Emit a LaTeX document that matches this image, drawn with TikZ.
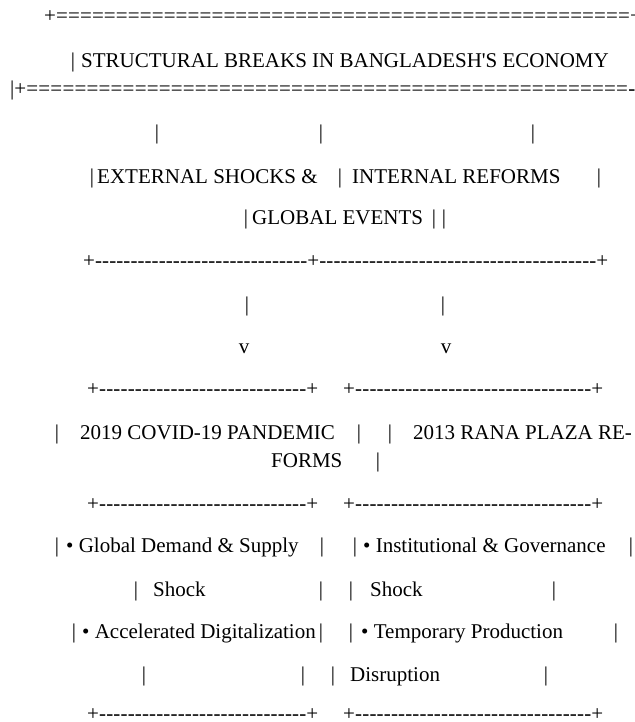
\documentclass[tikz,border=0pt]{standalone}
\usepackage{fontspec}
\setmainfont{Liberation Serif}
\usepackage{tikz}
\newcommand{\dashrun}[2]{\hbox to #1{\xleaders\hbox{#2}\hfill}}
\newcommand{\apos}{\XeTeXglyph\XeTeXcharglyph"27\relax}
\tikzstyle{txt} = [anchor=base west, inner sep=0pt, font=\fontsize{21}{25}\selectfont]
\tikzstyle{pipe} = [anchor=base, inner sep=0pt, font=\fontsize{21}{25}\selectfont]

\begin{document}
\begin{tikzpicture}[x=1pt,y=-1pt]
	\useasboundingbox (0,0) rectangle (634,722);
	\node[txt] (top) at (44,23) {+\dashrun{574pt}{=}+};
	\node[pipe] (p1) at (73,68) {|};
	\node[txt] (title) at (81,68) {STRUCTURAL BREAKS IN BANGLADESH\apos S ECONOMY};
	\node[txt] (under) at (10,96) {|+\dashrun{602pt}{=}-};
	\node[pipe] (p2) at (157,140) {|};
	\node[pipe] (p3) at (321,140) {|};
	\node[pipe] (p4) at (533,140) {|};
	\node[pipe] (p5) at (92,183) {|};
	\node[txt] (ext) at (97,183) {EXTERNAL SHOCKS \&};
	\node[pipe] (p6) at (340,183) {|};
	\node[txt] (int) at (352,183) {INTERNAL REFORMS};
	\node[pipe] (p7) at (599,183) {|};
	\node[pipe] (p8) at (246,224) {|};
	\node[txt] (glob) at (252,224) {GLOBAL EVENTS};
	\node[pipe] (p9) at (434,224) {|};
	\node[pipe] (p10) at (444,224) {|};
	\node[txt] (split) at (83,267) {+\dashrun{212.4pt}{-}+\dashrun{277.2pt}{-}+};
	\node[pipe] (p11) at (247,311) {|};
	\node[pipe] (p12) at (443,311) {|};
	\node[pipe] (v1) at (244,353) {v};
	\node[pipe] (v2) at (446,353) {v};
	\foreach \y/\n in {395/a,510/b,720/c} {
		\node[txt] (left\n) at (87,\y) {+\dashrun{207.4pt}{-}+};
		\node[txt] (right\n) at (343,\y) {+\dashrun{236.4pt}{-}+};
	}
	\node[pipe] (p13) at (57,439) {|};
	\node[txt] (covid) at (80,439) {2019 COVID-19 PANDEMIC};
	\node[pipe] (p14) at (359,439) {|};
	\node[pipe] (p15) at (390,439) {|};
	\node[txt] (rana) at (413,439) {2013 RANA PLAZA RE-};
	\node[txt] (forms) at (271,467) {FORMS};
	\node[pipe] (p16) at (378,467) {|};
	\node[pipe] (p17) at (57,552) {|};
	\node[txt] (demand) at (66,552) {• Global Demand \& Supply};
	\node[pipe] (p18) at (322,552) {|};
	\node[pipe] (p19) at (355,552) {|};
	\node[txt] (inst) at (363,552) {• Institutional \& Governance};
	\node[pipe] (p20) at (631,552) {|};
	\node[pipe] (p21) at (136,596) {|};
	\node[txt] (shockl) at (153,596) {Shock};
	\node[pipe] (p22) at (321,596) {|};
	\node[pipe] (p23) at (351,596) {|};
	\node[txt] (shockr) at (370,596) {Shock};
	\node[pipe] (p24) at (554,596) {|};
	\node[pipe] (p25) at (74,638) {|};
	\node[txt] (digi) at (82,638) {• Accelerated Digitalization};
	\node[pipe] (p26) at (321,638) {|};
	\node[pipe] (p27) at (351,638) {|};
	\node[txt] (temp) at (361,638) {• Temporary Production};
	\node[pipe] (p28) at (616,638) {|};
	\node[pipe] (p29) at (144,681) {|};
	\node[pipe] (p30) at (303,681) {|};
	\node[pipe] (p31) at (333,681) {|};
	\node[txt] (disr) at (350,681) {Disruption};
	\node[pipe] (p32) at (546,681) {|};
\end{tikzpicture}
\end{document}
